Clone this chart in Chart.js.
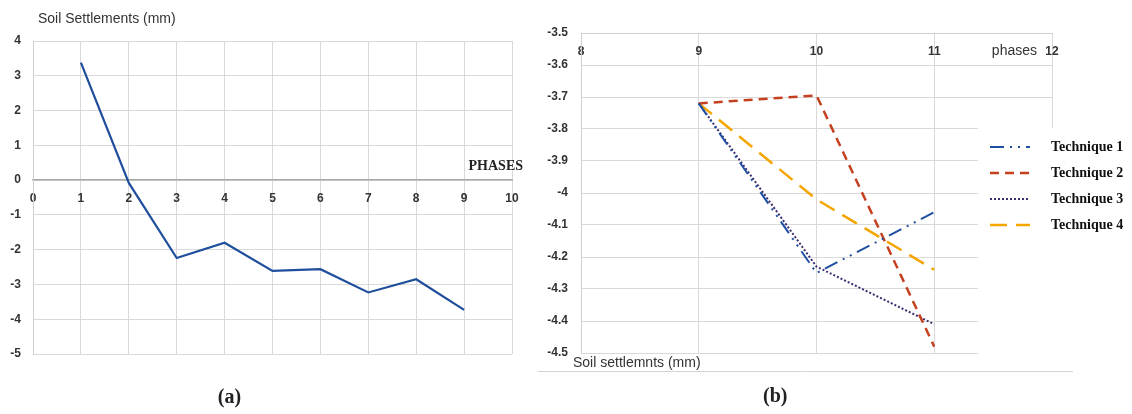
<!DOCTYPE html>
<html>
<head>
<meta charset="utf-8">
<script src="https://cdn.jsdelivr.net/npm/chart.js@4.4.1/dist/chart.umd.min.js"></script>
<style>
  html, body { margin: 0; padding: 0; background: #fff; }
  #wrap { position: relative; width: 1132px; height: 414px; overflow: hidden; }
  #chartA { position: absolute; left: 0; top: 0; }
  #chartB { position: absolute; left: 530px; top: 0; }
</style>
</head>
<body>
<div id="wrap">
  <canvas id="chartA" width="530" height="414"></canvas>
  <canvas id="chartB" width="602" height="414"></canvas>
</div>
<script>
// (a) settlement per phase
const phasesA = [1, 2, 3, 4, 5, 6, 7, 8, 9];
const settlementA = [3.38, -0.08, -2.24, -1.8, -2.61, -2.56, -3.23, -2.85, -3.73];

// (b) settlement per technique, phases 9..11
const phasesB = [9, 10, 11];
const technique1 = [-3.72, -4.25, -4.06];
const technique2 = [-3.72, -3.695, -4.48];
const technique3 = [-3.72, -4.23, -4.41];
const technique4 = [-3.72, -4.02, -4.24];
const techniqueLabels = ['Technique 1', 'Technique 2', 'Technique 3', 'Technique 4'];

const tickFont = { family: 'Liberation Sans', size: 12, weight: 'bold' };
const gridColor = '#d9d9d9';

function toPoints(xs, ys) {
    return xs.map((x, i) => ({ x, y: ys[i] }));
}

const captionsA = {
    id: 'captionsA',
    afterDraw(chart) {
        const { ctx, chartArea: a, scales: { x, y } } = chart;
        ctx.save();
        ctx.fillStyle = '#333';
        ctx.textBaseline = 'middle';
        ctx.font = '14px "Liberation Sans"';
        ctx.textAlign = 'left';
        ctx.fillText('Soil Settlements (mm)', a.left + 5, 19);
        ctx.fillStyle = '#222';
        ctx.font = 'bold 14px "Liberation Serif"';
        ctx.textAlign = 'right';
        ctx.fillText('PHASES', a.right + 11, y.getPixelForValue(0) - 14);
        ctx.font = 'bold 20px "Liberation Serif"';
        ctx.textAlign = 'center';
        ctx.fillText('(a)', x.getPixelForValue(4.1), 398);
        ctx.restore();
    }
};

new Chart(document.getElementById('chartA'), {
    type: 'line',
    data: {
        datasets: [{
            data: toPoints(phasesA, settlementA),
            borderColor: '#1f4e9c',
            borderWidth: 2.2,
            pointRadius: 0,
            tension: 0,
            fill: false
        }]
    },
    options: {
        responsive: false,
        animation: false,
        layout: { padding: { left: 0, right: 18, top: 41, bottom: 60 } },
        plugins: { legend: { display: false }, tooltip: { enabled: false } },
        scales: {
            x: {
                type: 'linear', min: 0, max: 10,
                position: { y: 0 },
                ticks: { stepSize: 1, padding: 11, color: '#333', font: tickFont, maxRotation: 0, autoSkip: false },
                grid: { color: gridColor, drawTicks: false },
                border: { color: '#a8a8a8', width: 1.5 }
            },
            y: {
                type: 'linear', min: -5, max: 4,
                afterFit: s => { s.width = 33; },
                ticks: { stepSize: 1, padding: 12, color: '#333', font: tickFont },
                grid: { color: gridColor, drawTicks: false },
                border: { color: '#d0d0d0', width: 1 }
            }
        }
    },
    plugins: [captionsA]
});

const captionsB = {
    id: 'captionsB',
    afterLayout(chart) {
        // legend sits over the right part of the plot
        const lg = chart.legend;
        const w = lg.width, h = lg.height;
        lg.left = chart.chartArea.right - 74;
        lg.top = 128;
        lg.right = lg.left + w;
        lg.bottom = lg.top + h;
    },
    beforeDatasetsDraw(chart) {
        const { ctx } = chart;
        const lg = chart.legend;
        ctx.save();
        ctx.fillStyle = '#fff';
        ctx.fillRect(lg.left, lg.top, chart.width - lg.left, lg.height - 8);
        ctx.restore();
        lg.draw(chart.chartArea);
    },
    afterDraw(chart) {
        const { ctx, chartArea: a, scales: { x } } = chart;
        ctx.save();
        ctx.fillStyle = '#333';
        ctx.textBaseline = 'middle';
        ctx.font = '14px "Liberation Sans"';
        ctx.textAlign = 'right';
        ctx.fillText('phases', x.getPixelForValue(12) - 15, a.top + 18);
        ctx.textAlign = 'left';
        ctx.fillText('Soil settlemnts (mm)', a.left - 8, a.bottom + 10);
        ctx.strokeStyle = '#d4d4d4';
        ctx.lineWidth = 1;
        ctx.beginPath();
        ctx.moveTo(8, 371.5);
        ctx.lineTo(543, 371.5);
        ctx.stroke();
        ctx.fillStyle = '#222';
        ctx.font = 'bold 20px "Liberation Serif"';
        ctx.textAlign = 'center';
        ctx.fillText('(b)', x.getPixelForValue(9.65), 397);
        ctx.restore();
    }
};

const styleB = [
    { color: '#1f4fa0', width: 2, dash: [14, 6, 2, 6, 2, 6] },
    { color: '#c4401f', width: 2.5, dash: [9, 6] },
    { color: '#3b2d70', width: 2, dash: [2, 2] },
    { color: '#f5a500', width: 2.5, dash: [17, 9] }
];
const seriesB = [technique1, technique2, technique3, technique4];

new Chart(document.getElementById('chartB'), {
    type: 'line',
    data: {
        datasets: seriesB.map((vals, i) => ({
            label: techniqueLabels[i],
            data: toPoints(phasesB, vals),
            borderColor: styleB[i].color,
            borderWidth: styleB[i].width,
            borderDash: styleB[i].dash,
            pointRadius: 0,
            tension: 0,
            fill: false
        }))
    },
    options: {
        responsive: false,
        animation: false,
        layout: { padding: { left: 0, right: 80, top: 33, bottom: 61 } },
        plugins: {
            tooltip: { enabled: false },
            legend: {
                position: 'chartArea',
                align: 'start',
                labels: {
                    usePointStyle: true,
                    pointStyleWidth: 40,
                    padding: 12,
                    color: '#111',
                    font: { family: 'Liberation Serif', size: 14, weight: 'bold' },
                    generateLabels(chart) {
                        return chart.data.datasets.map((ds, i) => ({
                            text: '\u2002\u2002' + ds.label,
                            strokeStyle: ds.borderColor,
                            fillStyle: ds.borderColor,
                            lineWidth: ds.borderWidth,
                            lineDash: ds.borderDash,
                            pointStyle: 'line',
                            fontColor: '#111',
                            hidden: false,
                            datasetIndex: i
                        }));
                    }
                }
            }
        },
        scales: {
            x: {
                type: 'linear', min: 8, max: 12,
                position: { y: -3.5 },
                ticks: { stepSize: 1, padding: 11, color: '#333', font: tickFont, maxRotation: 0, autoSkip: false },
                grid: { color: gridColor, drawTicks: false },
                border: { color: '#cfcfcf', width: 1 }
            },
            y: {
                type: 'linear', min: -4.5, max: -3.5,
                afterFit: s => { s.width = 51; },
                ticks: {
                    stepSize: 0.1, padding: 13, color: '#333', font: tickFont,
                    callback: v => String(Number(v.toFixed(1)))
                },
                grid: { color: gridColor, drawTicks: false },
                border: { color: '#cfcfcf', width: 1 }
            }
        }
    },
    plugins: [captionsB]
});
</script>
</body>
</html>
